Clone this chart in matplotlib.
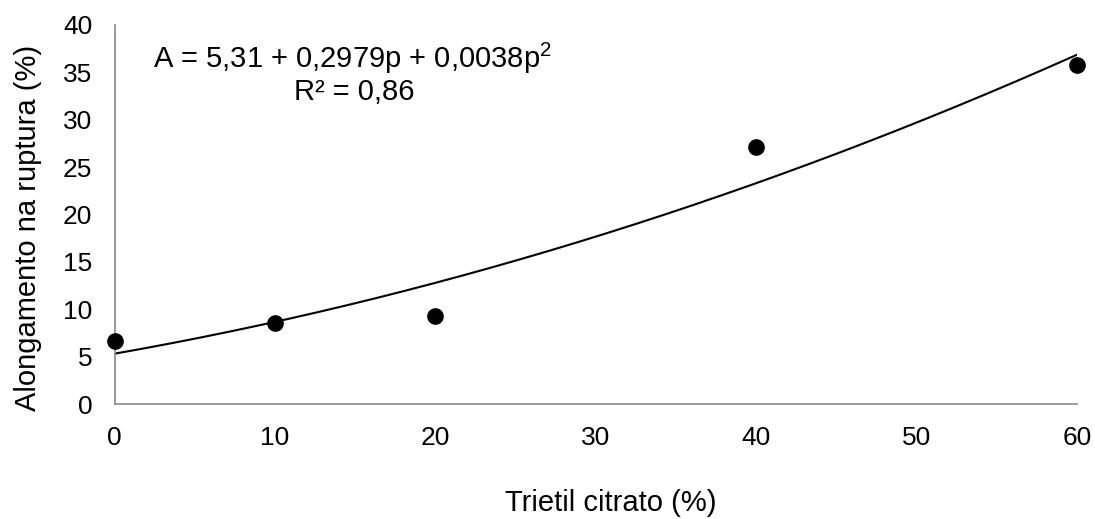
import matplotlib
matplotlib.use('Agg')

import numpy as np
import matplotlib.pyplot as plt

plt.rcParams['font.family'] = ['Liberation Sans', 'DejaVu Sans']
plt.rcParams['mathtext.fontset'] = 'custom'
plt.rcParams['mathtext.rm'] = 'Liberation Sans'

tec = [0, 10, 20, 40, 60]
alongamento = [6.7, 8.5, 9.3, 27.1, 35.8]
coef = [5.31, 0.2979, 0.0038]
x_ticks = [0, 10, 20, 30, 40, 50, 60]
y_ticks = [0, 5, 10, 15, 20, 25, 30, 35, 40]

W, H = 1095, 519
fig = plt.figure(figsize=(W / 100, H / 100), dpi=100)
ax = fig.add_axes([114.6 / W, 1 - 404 / H, (1077 - 114.6) / W, (404 - 25) / H])

p = np.linspace(0, 60, 200)
ax.plot(p, coef[0] + coef[1] * p + coef[2] * p ** 2, color='black', lw=1.5)
ax.plot(tec, alongamento, 'o', color='black', markersize=11, clip_on=False, zorder=3)

ax.set_xlim(0, 60)
ax.set_ylim(0, 40)
ax.set_xticks(x_ticks)
ax.set_yticks(y_ticks)
ax.tick_params(length=0, labelsize=19, pad=16)
for s in ['top', 'right']:
    ax.spines[s].set_visible(False)
for s in ['left', 'bottom']:
    ax.spines[s].set_color('#898989')
    ax.spines[s].set_linewidth(1.2)

# labels placed in pixel positions (from top-left)
fig.text(611 / W, 1 - 503 / H, 'Trietil citrato (%)', fontsize=21, ha='center', va='center')
fig.text(28 / W, 1 - 228 / H, 'Alongamento na ruptura (%)', fontsize=21,
         ha='center', va='center', rotation=90)

fig.text(153 / W, 1 - 68 / H, r'A = 5,31 + 0,2979p + 0,0038p$^\mathregular{2}$', fontsize=21,
         ha='left', va='baseline')
fig.text(354 / W, 1 - 100 / H, 'R² = 0,86', fontsize=21, ha='center', va='baseline')

plt.savefig('out.png', dpi=100)
